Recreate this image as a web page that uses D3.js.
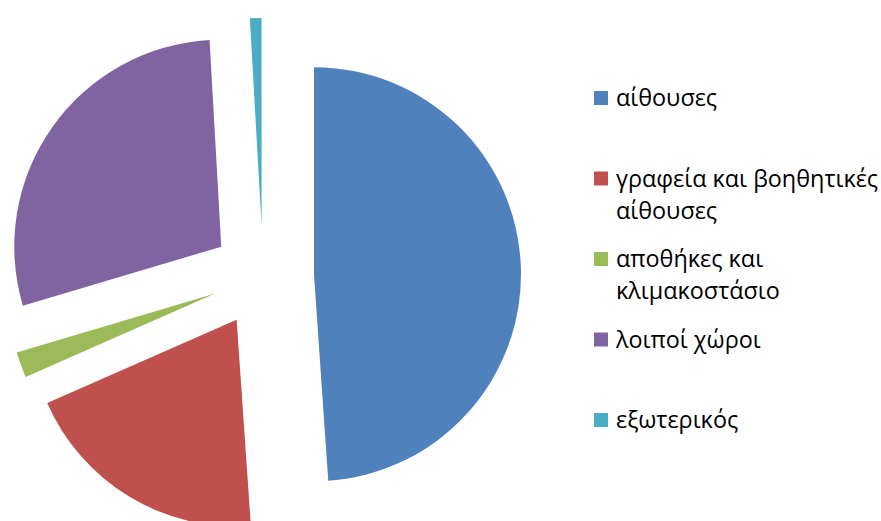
<!DOCTYPE html>
<html>
<head>
<meta charset="utf-8">
<script src="https://cdn.jsdelivr.net/npm/d3@7"></script>
<style>
  html, body { margin: 0; padding: 0; background: #ffffff; }
  svg { display: block; }
</style>
</head>
<body>
<svg id="chart" width="881" height="521"></svg>
<script>
// Space usage by category (percent of total area)
const categories = ["αίθουσες", "γραφεία και βοηθητικές αίθουσες", "αποθήκες και κλιμακοστάσιο", "λοιποί χώροι", "εξωτερικός"];
const legendLines = [["αίθουσες"], ["γραφεία και βοηθητικές", "αίθουσες"], ["αποθήκες και", "κλιμακοστάσιο"], ["λοιποί χώροι"], ["εξωτερικός"]];
const values = [48.9, 19.5, 2.0, 28.7, 0.9];
const colors = ["#4F81BD", "#C0504D", "#9BBB59", "#8064A2", "#4BACC6"];

const svg = d3.select("#chart");
const cx = 263, cy = 276, radius = 207, explode = 51;

const pie = d3.pie().sort(null).value(d => d)(values);
const arc = d3.arc().innerRadius(0).outerRadius(radius);

// Exploded pie: each slice pushed out along its bisector
svg.append("g")
  .attr("transform", `translate(${cx},${cy})`)
  .selectAll("path")
  .data(pie)
  .join("path")
  .attr("d", arc)
  .attr("fill", (d, i) => colors[i])
  .attr("transform", d => {
    const a = (d.startAngle + d.endAngle) / 2;
    return `translate(${explode * Math.sin(a)},${-explode * Math.cos(a)})`;
  });

// Legend
const legendY = d3.scalePoint().domain(d3.range(categories.length)).range([98, 420]);
const legend = svg.append("g")
  .selectAll("g")
  .data(categories)
  .join("g")
  .attr("transform", (d, i) => `translate(594,${legendY(i)})`);

legend.append("rect")
  .attr("x", 0).attr("y", -7)
  .attr("width", 14).attr("height", 14)
  .attr("fill", (d, i) => colors[i]);

legend.append("text")
  .attr("x", 22)
  .attr("y", 8)
  .attr("font-family", "'Open Sans', sans-serif")
  .attr("font-size", 23.4)
  .attr("fill", "#000")
  .selectAll("tspan")
  .data((d, i) => legendLines[i])
  .join("tspan")
  .attr("x", 22)
  .attr("dy", (d, j) => j === 0 ? 0 : 32)
  .text(d => d);
</script>
</body>
</html>
